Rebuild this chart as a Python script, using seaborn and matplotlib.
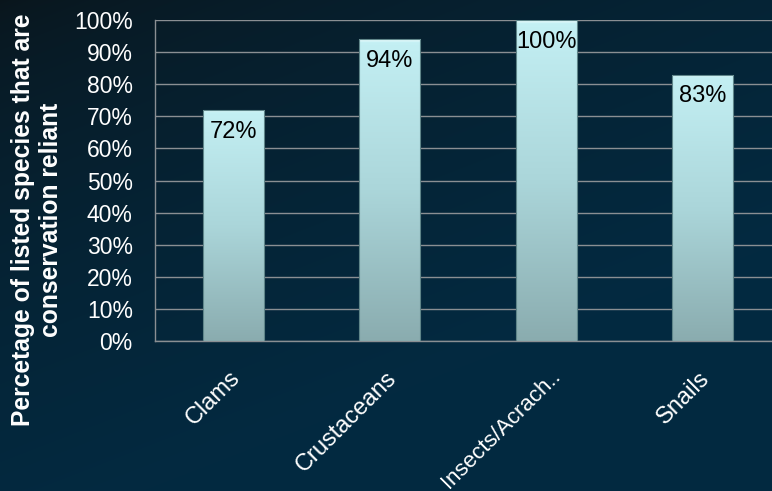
import numpy as np
import pandas as pd
import matplotlib
matplotlib.use("Agg")
import matplotlib.pyplot as plt
import matplotlib.transforms as mtransforms
from matplotlib.colors import to_rgb
import seaborn as sns

categories = ["Clams", "Crustaceans", "Insects/Acrach..", "Snails"]
values = [72, 94, 100, 83]
value_labels = ["72%", "94%", "100%", "83%"]
yticks = [0, 10, 20, 30, 40, 50, 60, 70, 80, 90, 100]
ytick_labels = [f"{t}%" for t in yticks]
ylabel = "Percetage of listed species that are\nconservation reliant"

sns.set_theme(style="white")
plt.rcParams["font.family"] = ["Liberation Sans", "DejaVu Sans"]

W, H = 772, 491
fig = plt.figure(figsize=(W / 100, H / 100), dpi=100)

# background gradient
bg = fig.add_axes([0, 0, 1, 1], zorder=-5)
yy, xx = np.mgrid[0:H, 0:W]
t = np.clip(0.55 * (xx / W) + 0.9 * (yy / H), 0, 1) ** 0.6
c0 = np.array(to_rgb("#0a151b"))
c1 = np.array(to_rgb("#032a41"))
img = c0[None, None, :] * (1 - t[..., None]) + c1[None, None, :] * t[..., None]
bg.imshow(img, aspect="auto", extent=(0, 1, 0, 1))
bg.set_axis_off()

left = 155 / W
right = 781 / W
bottom = 1 - 341 / H
top = 1 - 20 / H
ax = fig.add_axes([left, bottom, right - left, top - bottom])
ax.set_facecolor("none")

df = pd.DataFrame({"category": categories, "value": values})
sns.barplot(data=df, x="category", y="value", ax=ax, width=0.39,
            color="#b0dde2", edgecolor="#5f8589", linewidth=0.8, zorder=3)

ax.set_xlim(-0.5, 3.5)
ax.set_ylim(0, 100)
ax.set_yticks(yticks)
ax.set_yticklabels(ytick_labels)
ax.set_xlabel("")
ax.set_ylabel("")

ax.yaxis.grid(True, color="#8a8f93", linewidth=1.0, zorder=0)
ax.set_axisbelow(True)
for s in ["top", "right"]:
    ax.spines[s].set_visible(False)
for s in ["left", "bottom"]:
    ax.spines[s].set_visible(True)
    ax.spines[s].set_color("#8a8f93")
    ax.spines[s].set_linewidth(1.0)

ax.tick_params(axis="y", length=0, pad=16, labelsize=16.5, labelcolor="white")
ax.tick_params(axis="x", length=0, pad=0, labelsize=17, labelcolor="white")

for i, lbl in enumerate(ax.get_xticklabels()):
    dx, dy = (-4, -26) if i != 2 else (4, -25)
    if i == 2:
        lbl.set_fontsize(16)
    offset = mtransforms.ScaledTranslation(dx / 100, dy / 100, fig.dpi_scale_trans)
    lbl.set_rotation(45)
    lbl.set_ha("right")
    lbl.set_va("top")
    lbl.set_rotation_mode("anchor")
    lbl.set_transform(lbl.get_transform() + offset)

# gradient fill for bars
cb = np.array(to_rgb("#8aacaf"))
cm = np.array(to_rgb("#abd6da"))
ct = np.array(to_rgb("#c4f0f4"))
chl = np.array(to_rgb("#eefeff"))
for p in ax.patches:
    x0, y0 = p.get_x(), p.get_y()
    w, h = p.get_width(), p.get_height()
    n = 400
    ys = np.linspace(0, h, n)
    fr = ys / h
    col = np.where(fr[:, None] < 0.5,
                   cb + (cm - cb) * (fr[:, None] / 0.5),
                   cm + (ct - cm) * ((fr[:, None] - 0.5) / 0.5))
    hl = np.clip((ys - (h - 1.0)) / 1.0, 0, 1)[:, None]
    col = col * (1 - hl) + chl * hl
    grad = col[:, None, :]
    im = ax.imshow(grad, extent=(x0, x0 + w, y0, y0 + h), origin="lower",
                   aspect="auto", zorder=3.5)
    im.set_clip_path(p)
    p.set_facecolor("none")
    p.set_zorder(4)

ax.set_xlim(-0.5, 3.5)
ax.set_ylim(0, 100)

for i, (v, s) in enumerate(zip(values, value_labels)):
    ax.annotate(s, xy=(i, v), xytext=(0, -15.6), textcoords="offset points",
                ha="center", va="center", fontsize=17, color="black", zorder=6)

fig.text(37 / W, 1 - 220 / H, ylabel, rotation=90, ha="center", va="center",
         multialignment="center", fontsize=17.7, fontweight="bold", color="white",
         linespacing=1.25)

fig.savefig("out.png", dpi=100)
